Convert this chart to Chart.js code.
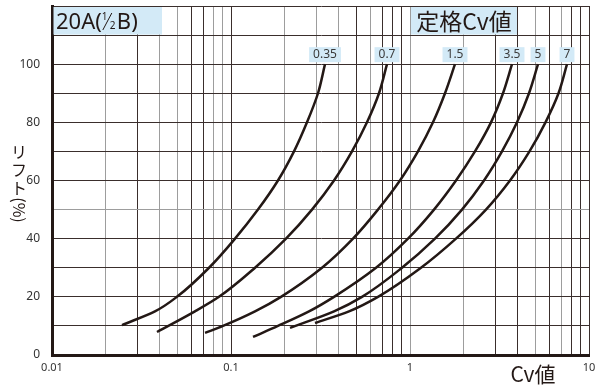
<!DOCTYPE html>
<html>
<head>
<meta charset="utf-8">
<script src="https://cdn.jsdelivr.net/npm/chart.js@4.4.1/dist/chart.umd.min.js"></script>
<style>
  * { margin: 0; padding: 0; box-sizing: border-box; }
  body { background: #fff; width: 600px; height: 389px; overflow: hidden; }
  .chart-container { position: relative; width: 600px; height: 389px; }
</style>
</head>
<body>
<div class="chart-container"><canvas id="chart"></canvas></div>
<script>
// rated Cv labels and the lift curves
const ratedCv = ['0.35', '0.7', '1.5', '3.5', '5', '7'];

const cv035 = [0.0246, 0.0376, 0.0499, 0.0754, 0.1053, 0.1415, 0.1830, 0.2249, 0.2658, 0.3062, 0.3351];
const lift035 = [10.3, 15, 20, 30, 40, 50, 60, 70, 80, 90, 100];

const cv07 = [0.0386, 0.0629, 0.0857, 0.1362, 0.2029, 0.2835, 0.3762, 0.4742, 0.5751, 0.6711, 0.7438];
const lift07 = [7.9, 15, 20, 30, 40, 50, 60, 70, 80, 90, 100];

const cv15 = [0.0716, 0.0902, 0.1362, 0.1903, 0.3224, 0.4804, 0.6625, 0.879, 1.108, 1.344, 1.569, 1.784];
const lift15 = [7.6, 10, 15, 20, 30, 40, 50, 60, 70, 80, 90, 100];

const cv35 = [0.1327, 0.1830, 0.2728, 0.3762, 0.6458, 0.9746, 1.362, 1.807, 2.307, 2.835, 3.308, 3.714];
const lift35 = [6.2, 10, 15, 20, 30, 40, 50, 60, 70, 80, 90, 100];

const cv5 = [0.2136, 0.3762, 0.5393, 0.9022, 1.379, 1.952, 2.591, 3.266, 3.962, 4.622, 5.190];
const lift5 = [9.3, 15, 20, 30, 40, 50, 60, 70, 80, 90, 100];

const cv7 = [0.2946, 0.4562, 0.6625, 1.152, 1.807, 2.658, 3.620, 4.651, 5.714, 6.756, 7.536];
const lift7 = [11, 15, 20, 30, 40, 50, 60, 70, 80, 90, 100];

const xTickValues = [0.01, 0.02, 0.03, 0.04, 0.05, 0.06, 0.07, 0.08, 0.09,
  0.1, 0.2, 0.3, 0.4, 0.5, 0.6, 0.7, 0.8, 0.9,
  1, 2, 3, 4, 5, 6, 7, 8, 9, 10];
const xLabelled = [0.01, 0.1, 1, 10];
const grayX = [0.02, 0.04, 0.05, 0.08, 0.09, 0.2, 0.3, 0.4, 0.6, 1, 2, 5, 7];
const grayY = [50];

const INK = '#231815';
const BOX = '#d3eaf7';
const FONT = '"Noto Sans", "Noto Sans CJK JP", sans-serif';
const JFONT = '"Noto Sans CJK JP", "Noto Sans", sans-serif';

const curves = [
  [cv035, lift035], [cv07, lift07], [cv15, lift15],
  [cv35, lift35], [cv5, lift5], [cv7, lift7],
];

const datasets = curves.map(([cv, lift], i) => ({
  label: ratedCv[i],
  data: cv.map((x, j) => ({ x, y: lift[j] })),
  borderColor: INK,
  borderWidth: 2.5,
  pointRadius: 0,
  fill: false,
  cubicInterpolationMode: 'monotone',
}));

const decor = {
  id: 'decor',
  afterDraw(chart) {
    const { ctx, chartArea: ca, scales: { x, y } } = chart;
    ctx.save();

    // header boxes
    const boxBottom = y.getPixelForValue(110);
    ctx.fillStyle = BOX;
    ctx.fillRect(ca.left + 1.5, ca.top + 1, 162 - ca.left - 1.5, boxBottom - ca.top - 1.5);
    const x1 = x.getPixelForValue(1);
    ctx.fillRect(x1 + 1, ca.top + 1, 106, boxBottom - ca.top - 1.5);

    ctx.fillStyle = INK;
    ctx.textBaseline = 'alphabetic';
    ctx.textAlign = 'left';
    let tx = 56;
    const base = ca.top + 23;
    ctx.font = `22px ${FONT}`;
    ctx.fillText('20A(', tx, base);
    tx += ctx.measureText('20A(').width;
    ctx.font = `10px ${FONT}`;
    ctx.fillText('1', tx, base - 9);
    ctx.beginPath();
    ctx.lineWidth = 1;
    ctx.strokeStyle = INK;
    ctx.moveTo(tx + 1, base + 1);
    ctx.lineTo(tx + 10, base - 16);
    ctx.stroke();
    ctx.fillText('2', tx + 8, base);
    tx += 15;
    ctx.font = `22px ${FONT}`;
    ctx.fillText('B)', tx, base);

    ctx.font = `23px ${JFONT}`;
    ctx.textAlign = 'center';
    ctx.fillText('定格Cv値', x1 + 54, base + 1);

    // rated Cv tags at the top of every curve
    ctx.font = `12px ${FONT}`;
    chart.data.datasets.forEach((ds, i) => {
      const pts = chart.getDatasetMeta(i).data;
      const end = pts[pts.length - 1];
      const w = ctx.measureText(ds.label).width + 8;
      ctx.fillStyle = BOX;
      ctx.fillRect(end.x - w / 2, end.y - 17, w, 15);
      ctx.fillStyle = '#3a3a3a';
      ctx.textBaseline = 'middle';
      ctx.fillText(ds.label, end.x, end.y - 9.5);
    });

    // axis titles
    ctx.fillStyle = INK;
    ctx.font = `16px ${JFONT}`;
    ctx.textBaseline = 'middle';
    ['リ', 'フ', 'ト'].forEach((c, i) => ctx.fillText(c, 19, 152 + i * 18));
    ctx.save();
    ctx.translate(19, 210);
    ctx.rotate(Math.PI / 2);
    ctx.fillText('(%)', 0, 0);
    ctx.restore();

    ctx.font = `21px ${JFONT}`;
    ctx.textAlign = 'center';
    ctx.fillText('Cv値', 533, 374);
    ctx.restore();
  }
};

new Chart(document.getElementById('chart'), {
  type: 'line',
  data: { datasets },
  plugins: [decor],
  options: {
    indexAxis: 'y',
    responsive: true,
    maintainAspectRatio: false,
    animation: false,
    layout: { padding: { top: 6, right: 11, left: 0, bottom: 0 } },
    plugins: { legend: { display: false }, tooltip: { enabled: false } },
    scales: {
      x: {
        type: 'logarithmic',
        position: 'bottom',
        min: 0.01,
        max: 10,
        afterBuildTicks: s => { s.ticks = xTickValues.map(value => ({ value })); },
        afterFit: s => { s.height = 34; s.paddingLeft = 0; s.paddingRight = 0; },
        grid: {
          drawTicks: false,
          lineWidth: 1,
          color: c => grayX.includes(c.tick && c.tick.value) ? '#9d9d9d' : '#3a2e2c',
        },
        border: { color: INK, width: 3 },
        ticks: {
          autoSkip: false,
          maxRotation: 0,
          padding: 6,
          color: '#333',
          font: { family: FONT, size: 11 },
          callback: v => xLabelled.includes(v) ? String(v) : '',
        },
      },
      y: {
        type: 'linear',
        position: 'left',
        min: 0,
        max: 120,
        afterFit: s => { s.width = 52; s.paddingTop = 0; s.paddingBottom = 0; },
        grid: {
          drawTicks: false,
          lineWidth: 1,
          color: c => grayY.includes(c.tick && c.tick.value) ? '#9d9d9d' : '#3a2e2c',
        },
        border: { color: INK, width: 3 },
        ticks: {
          stepSize: 10,
          padding: 12,
          color: '#333',
          font: { family: FONT, size: 12 },
          callback: v => (v % 20 === 0 && v <= 100) ? v : '',
        },
      },
    },
  },
});
</script>
</body>
</html>
